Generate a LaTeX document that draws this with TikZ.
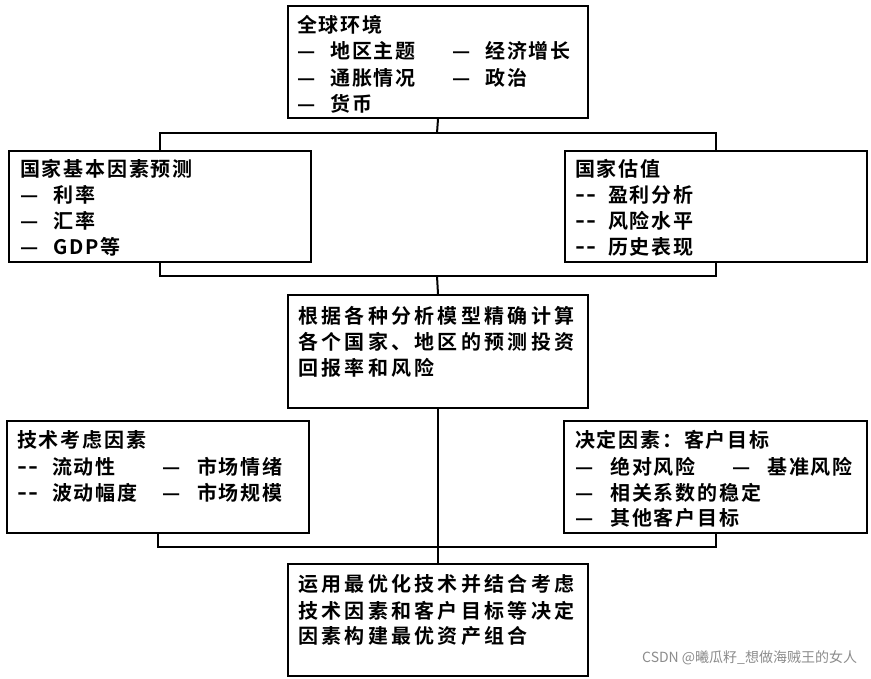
\documentclass[tikz,border=0pt]{standalone}
\usepackage{fontspec}
\usepackage{graphicx}
\newfontfamily\cjk{Noto Sans CJK SC}[BoldFont={* Bold}]
\newcommand\sdash{\scalebox{1.35}[1.15]{-}}
\newcommand\dd{\makebox[33pt][l]{—}}
\newcommand\hh{\makebox[33pt][l]{\sdash\kern1pt\sdash}}
\newcommand\ddd{\makebox[35pt][l]{—}}
\newcommand\hhh{\makebox[35pt][l]{\sdash\kern1pt\sdash}}
\begin{document}
\begin{tikzpicture}[x=1pt,y=-1pt,
  box/.style={draw, line width=2pt, inner sep=0pt, anchor=north west},
  txt/.style={anchor=base west, inner sep=0pt, font=\cjk\bfseries\fontsize{20}{26}\selectfont\addfontfeature{LetterSpace=9}},
  wtxt/.style={anchor=base west, inner sep=0pt, font=\cjk\bfseries\fontsize{20}{26}\selectfont\addfontfeature{LetterSpace=16.5}},
  link/.style={line width=2pt}]
\useasboundingbox (0,0) rectangle (871,679);
% boxes
\node[box, minimum width=300pt, minimum height=112pt] (global) at (287,5) {};
\node[box, minimum width=302pt, minimum height=111pt] (country) at (8,150) {};
\node[box, minimum width=302pt, minimum height=111pt] (value) at (564,150) {};
\node[box, minimum width=300pt, minimum height=113pt] (calc) at (287,294) {};
\node[box, minimum width=302pt, minimum height=112pt] (tech) at (6,420) {};
\node[box, minimum width=303pt, minimum height=112pt] (client) at (563,420) {};
\node[box, minimum width=300pt, minimum height=112pt] (final) at (287,563) {};
% texts
\node[txt] (g0) at (297,32.5) {全球环境};
\node[txt] (g1) at (297,59) {\makebox[155pt][l]{\dd 地区主题}\dd 经济增长};
\node[txt] (g2) at (297,85.5) {\makebox[155pt][l]{\dd 通胀情况}\dd 政治};
\node[txt] (g3) at (297,112) {\dd 货币};
\node[txt] (c0) at (20,177) {国家基本因素预测};
\node[txt] (c1) at (20,203) {\dd 利率};
\node[txt] (c2) at (20,229) {\dd 汇率};
\node[txt] (c3) at (20,255) {\dd GDP等};
\node[txt] (v0) at (575,177) {国家估值};
\node[txt] (v1) at (575,203) {\hh 盈利分析};
\node[txt] (v2) at (575,229) {\hh 风险水平};
\node[txt] (v3) at (575,255) {\hh 历史表现};
\node[wtxt] (m0) at (298,324) {根据各种分析模型精确计算};
\node[wtxt] (m1) at (298,350) {各个国家、地区的预测投资};
\node[wtxt] (m2) at (298,376) {回报率和风险};
\node[txt] (t0) at (17,447) {技术考虑因素};
\node[txt] (t1) at (17,474) {\makebox[145pt][l]{\hhh 流动性}\ddd 市场情绪};
\node[txt] (t2) at (17,500) {\makebox[145pt][l]{\hhh 波动幅度}\ddd 市场规模};
\node[txt] (k0) at (575,447) {决定因素：客户目标};
\node[txt] (k1) at (575,474) {\makebox[157pt][l]{\ddd 绝对风险}\ddd 基准风险};
\node[txt] (k2) at (575,500) {\ddd 相关系数的稳定};
\node[txt] (k3) at (575,525) {\ddd 其他客户目标};
\node[wtxt] (f0) at (298,591) {运用最优化技术并结合考虑};
\node[wtxt] (f1) at (298,618) {技术因素和客户目标等决定};
\node[wtxt] (f2) at (298,643) {因素构建最优资产组合};
\node[anchor=base west, inner sep=0pt, text=black!45, font=\cjk\fontsize{14}{16}\selectfont] (wm) at (642,662) {CSDN @曦瓜籽\_想做海贼王的女人};
% connectors
\coordinate (j1) at (437,133);
\coordinate (j2) at (437,276);
\coordinate (j3) at (437,547);
\draw[link] (global.south) -- (j1);
\draw[link] (country.north) |- (j1) -| (value.north);
\draw[link] (country.south) |- (j2) -| (value.south);
\draw[link] (j2) -- (calc.north);
\draw[link] (calc.south) -- (final.north);
\draw[link] (tech.south) |- (j3) -| (client.south);
\end{tikzpicture}
\end{document}
